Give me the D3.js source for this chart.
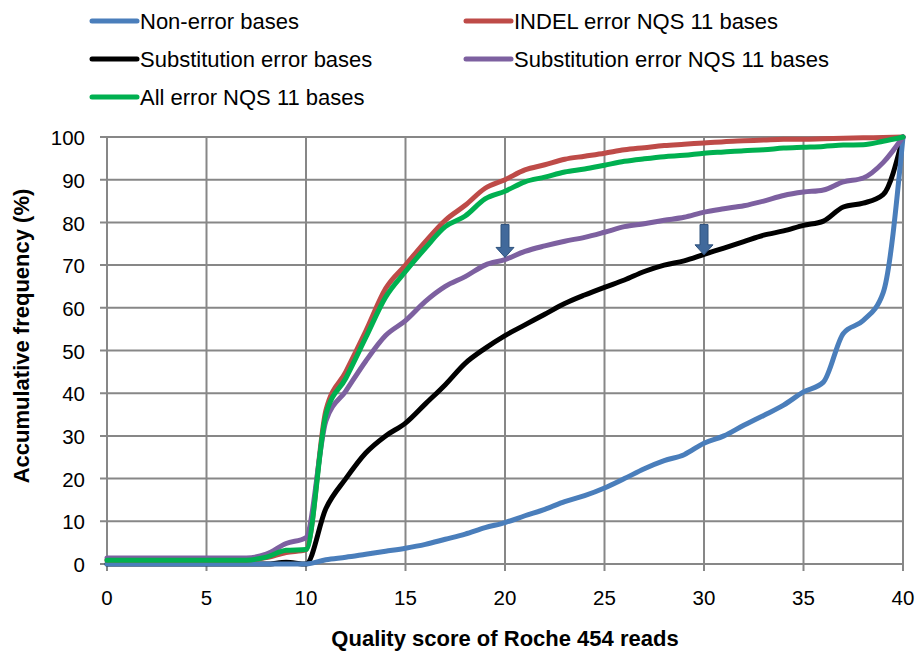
<!DOCTYPE html>
<html>
<head>
<meta charset="utf-8">
<script src="https://cdn.jsdelivr.net/npm/d3@7"></script>
<style>
  body { margin: 0; background: #fff; }
  text { font-family: "Liberation Sans", Arial, sans-serif; fill: #000; }
</style>
</head>
<body>
<svg class="chart" width="917" height="652"></svg>
<script>
// quality scores 0..40
const scores = d3.range(0, 41);

const nonError = [0,0,0,0,0,0,0,0,0,0,0, 1.0,1.6,2.3,3.0,3.7,4.6,5.8,7.0,8.5,9.7,
  11.3,12.8,14.6,16.0,17.8,20.0,22.3,24.2,25.6,28.3, 30.0,32.5,34.8,37.2,40.3,42.6,54.0,57.0,63.5,100];
const subError = [0,0,0,0,0,0,0,0,0,0.4,0, 13,20,26,30,33,37.5,42,47,50.5,53.5,
  56,58.5,61,63,64.8,66.5,68.5,70,71,72.5, 74,75.5,77,78,79.3,80.3,83.6,84.5,86.5,100];
const indelNqs = [0.9,0.9,0.9,0.9,0.9,0.9,0.9,0.9,1.5,2.7,3.3, 36,45,54.5,64.5,70,75.5,80.5,84,88,90,
  92.3,93.5,94.8,95.5,96.2,97,97.5,98,98.3,98.6, 98.9,99.1,99.3,99.5,99.5,99.6,99.7,99.8,99.9,100];
const subNqs = [1.4,1.4,1.4,1.4,1.4,1.4,1.4,1.4,2.3,4.8,6.2, 33.5,40.5,47.5,53.5,57,61.5,65,67.3,70,71.3,
  73.2,74.5,75.6,76.5,77.7,79,79.7,80.5,81.2,82.4, 83.2,83.9,85,86.3,87.1,87.6,89.5,90.4,94,100];
const allNqs = [0.9,0.9,0.9,0.9,0.9,0.9,0.9,0.9,1.6,3.2,3.4, 35,43.5,53,62.5,68.5,74,79,81.5,85.5,87.3,
  89.5,90.6,91.8,92.5,93.4,94.3,94.9,95.4,95.7,96.2, 96.5,96.8,97.0,97.4,97.6,97.8,98.1,98.2,99,100];

const seriesNames = ["Non-error bases", "INDEL error NQS 11 bases", "Substitution error bases",
  "Substitution error NQS 11 bases", "All error NQS 11 bases"];
const seriesColors = ["#4a7ebb", "#be4b48", "#000000", "#7d60a0", "#00b050"];
const seriesValues = [nonError, indelNqs, subError, subNqs, allNqs];
const drawOrder = [2, 0, 1, 3, 4];

const xTicks = [0,5,10,15,20,25,30,35,40];
const yTicks = [0,10,20,30,40,50,60,70,80,90,100];

// arrows: score, top value, tip value
const arrows = [{x: 20, from: 79.5, to: 71.8}, {x: 30, from: 79.5, to: 72.4}];

const plotLeft = 107, plotRight = 903, plotTop = 137, plotBottom = 564;
const svg = d3.select('.chart');

const xScale = d3.scaleLinear().domain([0, 40]).range([plotLeft, plotRight]);
const yScale = d3.scaleLinear().domain([0, 100]).range([plotBottom, plotTop]);

const gridColor = '#878787';

// grid
svg.append('g')
  .selectAll('line')
  .data(yTicks)
  .join('line')
  .attr('x1', plotLeft - 7).attr('x2', plotRight)
  .attr('y1', d => yScale(d)).attr('y2', d => yScale(d))
  .attr('stroke', gridColor).attr('stroke-width', 2);

svg.append('g')
  .selectAll('line')
  .data(xTicks)
  .join('line')
  .attr('x1', d => xScale(d)).attr('x2', d => xScale(d))
  .attr('y1', plotTop).attr('y2', plotBottom + 7)
  .attr('stroke', gridColor).attr('stroke-width', 2);

// tick labels
svg.append('g')
  .selectAll('text')
  .data(yTicks)
  .join('text')
  .attr('x', plotLeft - 22)
  .attr('y', d => yScale(d) + 1)
  .attr('dy', '0.35em')
  .attr('text-anchor', 'end')
  .style('font-size', '20.5px')
  .text(d => d);

svg.append('g')
  .selectAll('text')
  .data(xTicks)
  .join('text')
  .attr('x', d => xScale(d))
  .attr('y', 598)
  .attr('dy', '0.35em')
  .attr('text-anchor', 'middle')
  .style('font-size', '20.5px')
  .text(d => d);

// lines
const line = d3.line()
  .x((d, i) => xScale(scores[i]))
  .y(d => yScale(d))
  .curve(d3.curveMonotoneX);

svg.append('g')
  .selectAll('path')
  .data(drawOrder)
  .join('path')
  .attr('d', k => line(seriesValues[k]))
  .attr('fill', 'none')
  .attr('stroke', k => seriesColors[k])
  .attr('stroke-width', 5)
  .attr('stroke-linejoin', 'round')
  .attr('stroke-linecap', 'round');

// arrows
svg.append('g')
  .selectAll('path')
  .data(arrows)
  .join('path')
  .attr('d', d => {
    const cx = xScale(d.x), y0 = yScale(d.from), y1 = yScale(d.to);
    const hy = y1 - 10;
    return `M${cx - 4},${y0} L${cx + 4},${y0} L${cx + 4},${hy} L${cx + 9},${hy} L${cx},${y1} L${cx - 9},${hy} L${cx - 4},${hy} Z`;
  })
  .attr('fill', '#41699b')
  .attr('stroke', '#2f527d')
  .attr('stroke-width', 1);

// legend
const legendPos = [[92, 21], [466, 21], [92, 59], [466, 59], [92, 97]];
const legend = svg.append('g')
  .selectAll('g')
  .data(seriesNames)
  .join('g')
  .attr('transform', (d, i) => `translate(${legendPos[i][0]}, ${legendPos[i][1]})`);

legend.append('line')
  .attr('x1', 0).attr('x2', 45)
  .attr('stroke', (d, i) => seriesColors[i])
  .attr('stroke-width', 5)
  .attr('stroke-linecap', 'round');

legend.append('text')
  .attr('x', 48)
  .attr('dy', '0.35em')
  .style('font-size', '22px')
  .text(d => d);

// axis titles
svg.append('text')
  .attr('x', 505)
  .attr('y', 646)
  .attr('text-anchor', 'middle')
  .style('font-size', '22px')
  .style('font-weight', 'bold')
  .text('Quality score of Roche 454 reads');

svg.append('text')
  .attr('transform', `translate(29, 336) rotate(-90)`)
  .attr('text-anchor', 'middle')
  .style('font-size', '22px')
  .style('font-weight', 'bold')
  .text('Accumulative frequency (%)');
</script>
</body>
</html>
